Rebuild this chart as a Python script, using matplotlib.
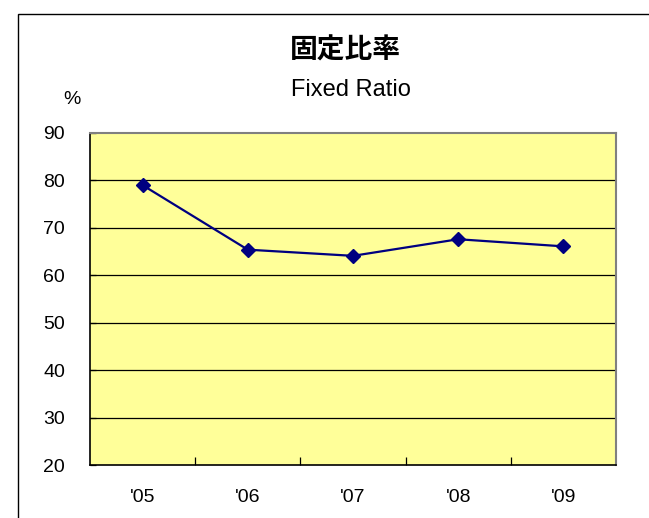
import matplotlib
matplotlib.use("Agg")
import matplotlib.pyplot as plt
from matplotlib.patches import Rectangle
from matplotlib.ticker import FixedLocator

plt.rcParams['font.family'] = ['Liberation Sans', 'Noto Sans CJK JP', 'DejaVu Sans']

categories = ["'05", "'06", "'07", "'08", "'09"]
values = [79.0, 65.4, 64.1, 67.6, 66.1]
yticks = [20, 30, 40, 50, 60, 70, 80, 90]

W, H = 649, 518
fig = plt.figure(figsize=(W / 100, H / 100), dpi=100)
fig.patch.set_facecolor('white')

# outer chart frame (extends beyond right and bottom of image)
fig.add_artist(Rectangle((18 / W, -0.05), 1.1, 1.05 - 14 / H,
                         transform=fig.transFigure, fill=False,
                         edgecolor='black', linewidth=1.0))

ax = fig.add_axes([90 / W, 1 - 465 / H, 526 / W, 332 / H])
ax.set_facecolor('#FFFF99')

x = list(range(len(categories)))
ax.plot(x, values, color='#000080', linewidth=1.6, marker='D',
        markersize=7.5, markerfacecolor='#000080', markeredgecolor='#000080',
        zorder=3)

ax.set_xlim(-0.5, len(categories) - 0.5)
ax.set_ylim(20, 90)
ax.set_yticks(yticks)
ax.set_xticks(x)
ax.set_xticklabels(categories)
ax.xaxis.set_minor_locator(FixedLocator([i + 0.5 for i in range(len(categories) - 1)]))

for y in yticks[1:-1]:
    ax.axhline(y, color='black', linewidth=0.9, zorder=1)

ax.tick_params(axis='x', which='major', length=0, pad=17, labelsize=14)
ax.tick_params(axis='x', which='minor', length=6, direction='in', width=0.9)
ax.tick_params(axis='y', which='major', length=4, direction='in', width=0.9,
               pad=18, labelsize=14)

for side in ['top', 'right']:
    ax.spines[side].set_color('#808080')
    ax.spines[side].set_linewidth(1.5)
for side in ['left', 'bottom']:
    ax.spines[side].set_color('black')
    ax.spines[side].set_linewidth(1.2)

fig.text(345 / W, 1 - 51 / H, '固定比率', ha='center', va='center',
         fontsize=20, fontweight='bold',
         family=['Noto Sans CJK JP', 'DejaVu Sans'])
fig.text(351 / W, 1 - 90 / H, 'Fixed Ratio', ha='center', va='center', fontsize=17)
fig.text(71.5 / W, 1 - 99 / H, '%', ha='center', va='center', fontsize=14)

fig.savefig('out.png', dpi=100)
